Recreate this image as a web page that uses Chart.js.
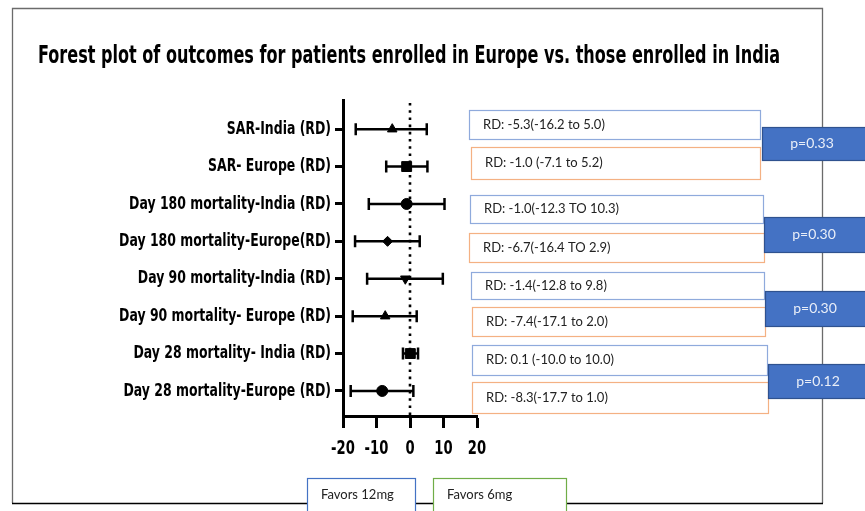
<!DOCTYPE html>
<html>
<head>
<meta charset="utf-8">
<title>Forest plot</title>
<script src="https://cdn.jsdelivr.net/npm/chart.js@4.4.1/dist/chart.umd.min.js"></script>
<style>
  html, body { margin: 0; padding: 0; background: #fff; }
  #wrap { width: 865px; height: 511px; }
</style>
</head>
<body>
<div id="wrap"><canvas id="forest" width="865" height="511"></canvas></div>
<script>
const outcomes = [
  "SAR-India (RD)",
  "SAR- Europe (RD)",
  "Day 180 mortality-India (RD)",
  "Day 180 mortality-Europe(RD)",
  "Day 90 mortality-India (RD)",
  "Day 90 mortality- Europe (RD)",
  "Day 28 mortality- India (RD)",
  "Day 28 mortality-Europe (RD)"
];
const estimates = [-5.3, -1.0, -1.0, -6.7, -1.4, -7.4, 0.1, -8.3];
const ciLow = [-16.2, -7.1, -12.3, -16.4, -12.8, -17.1, -2.1, -17.7];
const ciHigh = [5.0, 5.2, 10.3, 2.9, 9.8, 2.0, 2.4, 1.0];
const markers = ["triangle", "rect", "circle", "rectRot", "triangle", "triangle", "rect", "circle"];
const rdLabels = [
  "RD: -5.3(-16.2 to 5.0)",
  "RD: -1.0 (-7.1 to 5.2)",
  "RD: -1.0(-12.3 TO 10.3)",
  "RD: -6.7(-16.4 TO 2.9)",
  "RD: -1.4(-12.8 to 9.8)",
  "RD: -7.4(-17.1 to 2.0)",
  "RD: 0.1 (-10.0 to 10.0)",
  "RD: -8.3(-17.7 to 1.0)"
];
const pValues = ["p=0.33", "p=0.30", "p=0.30", "p=0.12"];
const xTicks = [-20, -10, 0, 10, 20];
const favorLabels = ["Favors 12mg", "Favors 6mg"];
const titleText = "Forest plot of outcomes for patients enrolled in Europe vs. those enrolled in India";

// no Arial Narrow here, so the condensed face is squeezed a bit more when drawn
const NARROW = '"Liberation Sans Narrow", "Arial Narrow", "DejaVu Sans Condensed", sans-serif';
const SQUEEZE = 0.77;
const BOX_FONT = "13px Lato, Carlito, sans-serif";
const markerRadius = [5.5, 7, 5.5, 5, 5.5, 5.5, 7, 5.5];
const markerRotation = [0, 0, 0, 0, 180, 0, 0, 0];

// box geometry for the side notes (RD boxes, then p boxes)
const rdBoxes = [
  [469, 110, 291, 29], [471, 147, 289, 32],
  [470, 195, 293, 28], [469, 233, 295, 29],
  [471, 272, 293, 27], [472, 307, 293, 29],
  [472, 345, 295, 30], [472, 382, 296, 31]
];
const pBoxes = [[762, 127, 110, 33], [764, 217, 110, 35], [765, 291, 110, 35], [768, 364, 110, 34]];

function drawBox(ctx, [bx, by, bw, bh], stroke, fill) {
  ctx.fillStyle = fill;
  ctx.fillRect(bx, by, bw, bh);
  ctx.strokeStyle = stroke;
  ctx.lineWidth = 1.2;
  ctx.strokeRect(bx + 0.5, by + 0.5, bw, bh);
}

// draw a scale's tick labels horizontally squeezed, keeping each label anchored
function condenseLabels(scale, factor) {
  if (scale._condensed) return;
  scale._condensed = true;
  const original = scale.drawLabels.bind(scale);
  scale._computeLabelArea = () => undefined;
  scale.drawLabels = (area) => {
    const ctx = scale.ctx;
    const items = scale.getLabelItems(area);
    const saved = items.map((it) => it.options.translation);
    items.forEach((it) => {
      const [tx, ty] = it.options.translation;
      it.options.translation = [tx / factor, ty];
    });
    ctx.save();
    ctx.scale(factor, 1);
    original(area);
    ctx.restore();
    items.forEach((it, i) => { it.options.translation = saved[i]; });
  };
}

const framePlugin = {
  id: "frame",
  beforeDraw(chart) {
    const { ctx } = chart;
    condenseLabels(chart.scales.x, SQUEEZE);
    condenseLabels(chart.scales.y, SQUEEZE);
    ctx.save();
    ctx.fillStyle = "#fff";
    ctx.fillRect(0, 0, chart.width, chart.height);
    ctx.lineWidth = 1.3;
    ctx.strokeStyle = "#6b6b6b";
    ctx.beginPath();
    ctx.moveTo(12.5, 503);
    ctx.lineTo(12.5, 8.5);
    ctx.lineTo(822.5, 8.5);
    ctx.lineTo(822.5, 503);
    ctx.stroke();
    ctx.strokeStyle = "#000";
    ctx.beginPath();
    ctx.moveTo(12, 503.5);
    ctx.lineTo(823, 503.5);
    ctx.stroke();
    ctx.restore();
  }
};

const errorBarPlugin = {
  id: "errorBars",
  beforeDatasetsDraw(chart) {
    const { ctx, chartArea } = chart;
    const { x, y } = chart.scales;
    ctx.save();
    ctx.strokeStyle = "#000";
    ctx.lineWidth = 2.6;
    ctx.setLineDash([2.6, 4.6]);
    const x0 = x.getPixelForValue(0);
    ctx.beginPath();
    ctx.moveTo(x0, chartArea.top + 3);
    ctx.lineTo(x0, chartArea.bottom);
    ctx.stroke();
    ctx.setLineDash([]);
    ctx.lineWidth = 2.5;
    outcomes.forEach((_, i) => {
      const py = y.getPixelForValue(i + 1);
      const xl = x.getPixelForValue(ciLow[i]);
      const xh = x.getPixelForValue(ciHigh[i]);
      ctx.beginPath();
      ctx.moveTo(xl, py);
      ctx.lineTo(xh, py);
      ctx.moveTo(xl, py - 6);
      ctx.lineTo(xl, py + 6);
      ctx.moveTo(xh, py - 6);
      ctx.lineTo(xh, py + 6);
      ctx.stroke();
    });
    ctx.restore();
  }
};

const notesPlugin = {
  id: "notes",
  afterDraw(chart) {
    const { ctx } = chart;
    ctx.save();

    // title, fitted to the width it has in the original
    ctx.fillStyle = "#000";
    ctx.font = "bold 24px " + NARROW;
    ctx.textAlign = "center";
    ctx.textBaseline = "middle";
    const tw = ctx.measureText(titleText).width;
    const f = Math.min(1, 742 / tw);
    ctx.save();
    ctx.translate(409, 57);
    ctx.scale(f, 1);
    ctx.fillText(titleText, 0, 0);
    ctx.restore();

    ctx.font = BOX_FONT;
    ctx.textAlign = "left";
    rdBoxes.forEach((b, i) => {
      const even = i % 2 === 0;
      drawBox(ctx, b, even ? "#8faadc" : "#f4b183", "#fff");
      ctx.fillStyle = "#222";
      ctx.fillText(rdLabels[i], b[0] + 14, b[1] + b[3] / 2);
    });

    ctx.font = "14px Lato, Carlito, sans-serif";
    ctx.textAlign = "center";
    pBoxes.forEach((b, i) => {
      drawBox(ctx, b, "#2f528f", "#4472c4");
      ctx.fillStyle = "#e9eef8";
      ctx.fillText(pValues[i], b[0] + 50, b[1] + b[3] / 2);
    });

    ctx.font = BOX_FONT;
    ctx.textAlign = "left";
    drawBox(ctx, [307, 478, 108, 40], "#4472c4", "#fff");
    drawBox(ctx, [433, 478, 133, 40], "#70ad47", "#fff");
    ctx.fillStyle = "#222";
    ctx.fillText(favorLabels[0], 321, 495);
    ctx.fillText(favorLabels[1], 447, 495);

    ctx.restore();
  }
};

new Chart(document.getElementById("forest"), {
  type: "scatter",
  data: {
    datasets: [{
      label: "Risk difference",
      data: estimates.map((v, i) => ({ x: v, y: i + 1 })),
      pointStyle: markers,
      rotation: markerRotation,
      pointRadius: markerRadius,
      backgroundColor: "#000",
      borderColor: "#000",
      borderWidth: 1
    }]
  },
  plugins: [framePlugin, errorBarPlugin, notesPlugin],
  options: {
    responsive: false,
    animation: false,
    layout: { padding: { left: 0, right: 388, top: 100, bottom: 0 } },
    plugins: {
      legend: { display: false },
      tooltip: { enabled: false },
      title: { display: false }
    },
    scales: {
      x: {
        type: "linear",
        min: -20,
        max: 20,
        afterBuildTicks: (scale) => { scale.ticks = xTicks.map((v) => ({ value: v })); },
        afterFit: (scale) => { scale.height = 95; },
        border: { display: true, color: "#000", width: 3 },
        grid: { drawOnChartArea: false, tickLength: 12, tickWidth: 3, tickColor: "#000" },
        ticks: {
          color: "#000",
          padding: 10,
          maxRotation: 0,
          autoSkip: false,
          font: { family: NARROW, size: 19, weight: "bold" }
        }
      },
      y: {
        type: "linear",
        reverse: true,
        min: 0.22,
        max: 8.67,
        afterBuildTicks: (scale) => { scale.ticks = outcomes.map((_, i) => ({ value: i + 1 })); },
        afterFit: (scale) => { scale.width = 343; },
        border: { display: true, color: "#000", width: 3 },
        grid: { drawOnChartArea: false, tickLength: 8, tickWidth: 3, tickColor: "#000" },
        ticks: {
          color: "#000",
          padding: 4,
          callback: (value) => outcomes[value - 1],
          font: { family: NARROW, size: 18, weight: "bold" }
        }
      }
    }
  }
});
</script>
</body>
</html>
